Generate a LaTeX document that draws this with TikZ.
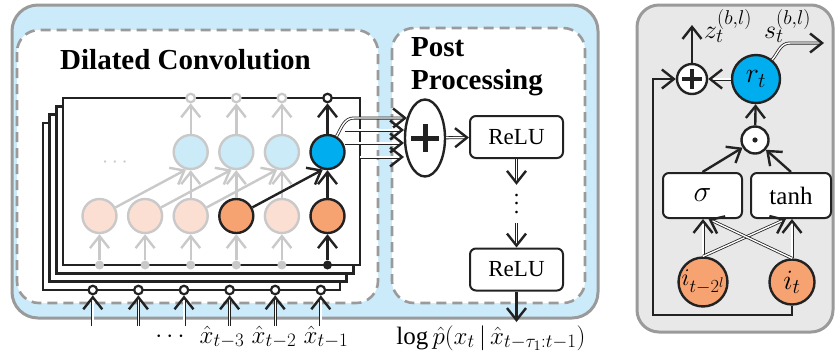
\documentclass[tikz,border=0pt]{standalone}
\usepackage{fix-cm}
\usepackage{fontspec}
\setmainfont{Liberation Serif}
\usetikzlibrary{arrows.meta,shapes.geometric,calc}

% larger script sizes for the formula labels
\DeclareMathSizes{24}{24}{18.5}{14}
\DeclareMathSizes{25}{25}{19}{14.5}
\DeclareMathSizes{26}{26}{20}{15}
\DeclareMathSizes{28}{28}{21}{16}
\DeclareMathSizes{30}{30}{22}{17}

% widely spaced vertical ellipsis
\newcommand\spreadvdots{\vbox{\baselineskip=8.5pt\lineskiplimit=0pt
  \hbox{.}\hbox{.}\hbox{.}}}

\definecolor{skyfill}{HTML}{CBEBFA}
\definecolor{framegray}{HTML}{9A9A9A}
\definecolor{panelgray}{HTML}{E8E8E8}
\definecolor{ink}{HTML}{222222}
\definecolor{faded}{HTML}{C9C9C9}
\definecolor{peach}{HTML}{FCDFD3}
\definecolor{tangerine}{HTML}{F6A271}
\definecolor{paleblue}{HTML}{CBEBF9}
\definecolor{cyanfill}{HTML}{00AEEF}

\tikzset{
  wire/.style={draw=ink,line width=2.4pt,-{Straight Barb[length=12pt,width=19pt]}},
  fadedwire/.style={draw=faded,line width=2.4pt,-{Straight Barb[length=12pt,width=19pt]}},
  dblwire/.style={draw=ink,line width=0.8pt,double=white,double distance=1.4pt,
    -{Straight Barb[length=12pt,width=19pt,line width=2.4pt]}},
  unit/.style={circle,minimum size=34pt,inner sep=0pt,line width=2.4pt},
  port/.style={circle,minimum size=8.5pt,inner sep=0pt,line width=2.2pt,fill=white},
  tap/.style={circle,minimum size=9pt,inner sep=0pt},
  block/.style={rectangle,rounded corners=6pt,draw=ink,line width=2pt,fill=white,
    inner sep=0pt,font=\fontsize{23}{27}\selectfont},
  container/.style={draw=framegray,line width=3pt},
  dashbox/.style={draw=framegray,line width=2.6pt,fill=white,rounded corners=22pt,
    dash pattern=on 10pt off 6pt},
  heading/.style={inner sep=0pt,font=\fontsize{29}{33}\selectfont\bfseries},
  formula/.style={inner sep=0pt,font=\fontsize{25}{29}\selectfont},
}

\begin{document}
\begin{tikzpicture}[x=1pt,y=-1pt]
\useasboundingbox (0,0) rectangle (835,360);

% ---------- left: network ----------
\draw[container,fill=skyfill,rounded corners=26pt] (12,5) rectangle (598,318);
\draw[dashbox] (17,30) rectangle (378,303);
\draw[dashbox] (392,28) rectangle (585,303);

\node[heading,anchor=base west] (convtitle) at (60,69) {Dilated Convolution};
\node[heading,anchor=north west,align=left] (posttitle) at (411,37) {Post\\Processing};

% stacked filter frames, back to front
\foreach \k in {3,2,1,0}
  \draw[draw=ink,line width=2.4pt,fill=white]
    ({63-6.7*\k},{98+8.3*\k}) rectangle ({360-6.7*\k},{265+8.3*\k});

% hidden units
\foreach \i/\x in {1/99.5,2/145.1,3/190.7,5/281.9}
  \node[unit,draw=faded,fill=peach] (L\i) at (\x,216) {};
\node[unit,draw=ink,fill=tangerine] (L4) at (236.3,216) {};
\node[unit,draw=ink,fill=tangerine] (L6) at (327.5,216) {};
\foreach \i/\x in {3/190.7,4/236.3,5/281.9}
  \node[unit,draw=faded,fill=paleblue] (U\i) at (\x,152) {};
\node[unit,draw=ink,fill=cyanfill] (U6) at (327.5,152) {};

% outputs on the top edge, taps on the bottom edge
\foreach \i/\x in {3/190.7,4/236.3,5/281.9}
  \node[port,draw=faded] (T\i) at (\x,98) {};
\node[port,draw=ink] (T6) at (327.5,98) {};
\foreach \i/\x in {1/99.5,2/145.1,3/190.7,4/236.3,5/281.9}
  \node[tap,fill=faded] (B\i) at (\x,265) {};
\node[tap,fill=ink] (B6) at (327.5,265) {};

\node[text=faded,font=\fontsize{22}{26}\selectfont] (gap) at (115,163) {$\cdots$};

% faded connections
\foreach \i in {1,...,5} \draw[fadedwire] (B\i) -- (L\i);
\foreach \i in {3,4,5} {
  \draw[fadedwire] (L\i) -- (U\i);
  \draw[fadedwire] (U\i) -- (T\i);
}
\foreach \i/\j in {1/3,2/4,3/5} \draw[fadedwire] (L\i) -- (U\j.255);

% active path
\draw[wire] (B6) -- (L6);
\draw[wire] (L6) -- (U6);
\draw[wire] (L4) -- (U6.255);
\draw[wire] (U6) -- (T6);

% inputs
\foreach \i/\x in {1/92.8,2/138.4,3/184,4/229.6,5/275.2,6/320.8} {
  \node[port,draw=ink] (I\i) at (\x,290) {};
  \coordinate (S\i) at (\x,326);
  \draw[dblwire] (S\i) -- (I\i);
}
\node[formula,anchor=base] (xdots) at (170,342) {$\cdots$};
\node[formula,anchor=base] (x3) at (222,343) {$\hat{x}_{t-3}$};
\node[formula,anchor=base] (x2) at (274,343) {$\hat{x}_{t-2}$};
\node[formula,anchor=base] (x1) at (326,343) {$\hat{x}_{t-1}$};

% ---------- post processing ----------
\node[ellipse,draw=ink,line width=2.4pt,fill=white,minimum width=40pt,
  minimum height=77pt,inner sep=0pt] (E) at (425,138) {};
\draw[ink,line width=5pt] ($(E)+(-14,0)$) -- ($(E)+(14,0)$)
  ($(E)+(0,-14)$) -- ($(E)+(0,14)$);

\coordinate (e1) at (407,118);
\coordinate (e2) at (404,130);
\coordinate (e3) at (404,143);
\coordinate (e4) at (404,157);
\coordinate (o2) at (345,130);
\coordinate (o3) at (345,143);
\coordinate (o4) at (360,157);
\draw[dblwire] (U6.60) to[out=60,in=180] (354,118) -- (e1);
\draw[dblwire] (o2) -- (e2);
\draw[dblwire] (o3) -- (e3);
\draw[dblwire] (o4) -- (e4);

\node[block,minimum width=93pt,minimum height=42pt] (R1) at (516.5,137) {ReLU};
\node[block,minimum width=93pt,minimum height=42pt] (R2) at (516.5,269.5) {ReLU};
\node[inner sep=0pt,minimum height=38pt,font=\fontsize{22}{26}\selectfont] (V) at (516.5,204) {\spreadvdots};
\draw[dblwire] (E) -- (R1);
\draw[dblwire] (R1) -- (V);
\draw[dblwire] (V) -- (R2);
\coordinate (out) at (516.5,322);
\draw[wire] (R2) -- (out);
\node[formula,anchor=base] (lik) at (491,344)
  {$\log\hat{p}\bigl(x_t\,|\,\hat{x}_{t-\tau_1:t-1}\bigr)$};

% ---------- right: residual block ----------
\draw[container,fill=panelgray,rounded corners=22pt] (637,5) rectangle (833,332);

\node[circle,draw=ink,line width=2.4pt,fill=white,minimum size=30pt,inner sep=0pt] (gsum) at (692,79) {};
\draw[ink,line width=3.5pt] ($(gsum)+(-10,0)$) -- ($(gsum)+(10,0)$)
  ($(gsum)+(0,-10)$) -- ($(gsum)+(0,10)$);
\node[circle,draw=ink,line width=2.4pt,fill=cyanfill,minimum size=48pt,inner sep=0pt,
  font=\fontsize{28}{32}\selectfont] (rt) at (756,79) {$r_t$};
\node[circle,draw=ink,line width=2.4pt,fill=white,minimum size=27pt,inner sep=0pt] (gprod) at (755,140) {};
\fill[ink] (gprod) circle (2.6pt);
\node[block,minimum width=79pt,minimum height=45pt,font=\fontsize{30}{34}\selectfont] (gsig) at (702.5,195.5) {$\sigma$};
\node[block,minimum width=80pt,minimum height=45pt,font=\fontsize{25}{29}\selectfont] (gtanh) at (791,195.5) {tanh};
\node[circle,draw=ink,line width=2.4pt,fill=tangerine,minimum size=45pt,inner sep=0pt,
  font=\fontsize{24}{28}\selectfont] (ilag) at (703,282) {$i_{t-2^l}$};
\node[circle,draw=ink,line width=2.4pt,fill=tangerine,minimum size=45pt,inner sep=0pt,
  font=\fontsize{28}{32}\selectfont] (inow) at (792,282) {$i_t$};

\draw[dblwire] (ilag.north) -- (ilag.north |- gsig.south);
\draw[dblwire] (inow.north) -- (inow.north |- gtanh.south);
\draw[dblwire] (ilag.north) -- ($(gtanh.south)+(-5,0)$);
\draw[dblwire] (inow.north) -- ($(gsig.south)+(6,0)$);
\draw[wire] (gsig.north) -- (gprod);
\draw[wire] (gtanh.north) -- (gprod);
\draw[wire] (gprod) -- (rt);
\draw[dblwire] (rt) -- (gsum);
\coordinate (ztop) at (692,25);
\draw[wire] (gsum) -- (ztop);
\coordinate (skipcorner) at (653,315);
\draw[wire] (inow.south) |- (skipcorner) |- (gsum.west);
\coordinate (stail) at (824,43);
\draw[dblwire] (rt.50) to[out=50,in=180] (790,43) -- (stail);

\node[anchor=base west,inner sep=0pt,font=\fontsize{26}{30}\selectfont] (zlab) at (704,38) {$z_t^{(b,l)}$};
\node[anchor=base west,inner sep=0pt,font=\fontsize{26}{30}\selectfont] (slab) at (764,38) {$s_t^{(b,l)}$};
\end{tikzpicture}
\end{document}
